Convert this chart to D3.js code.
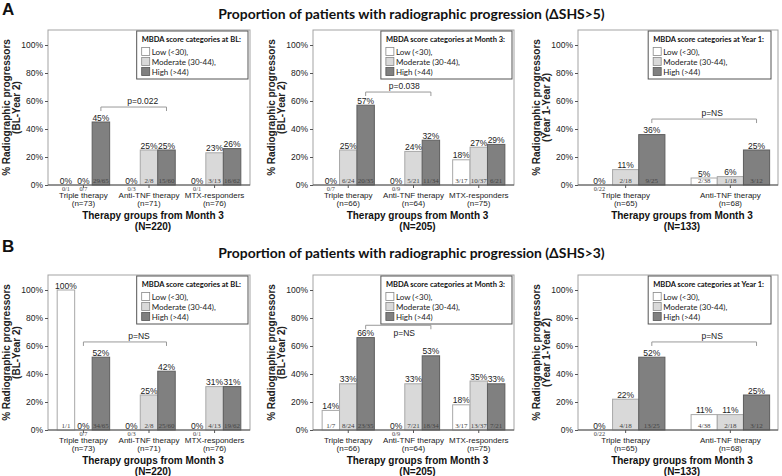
<!DOCTYPE html>
<html><head><meta charset="utf-8">
<script src="https://cdn.jsdelivr.net/npm/d3@7"></script>
<style>body{margin:0;background:#fff}</style>
</head><body><svg id="chart" width="782" height="476"></svg>
<script>
// ---------- data ----------
const rowLetters = ["A", "B"];
const rowTitles = ["Proportion of patients with radiographic progression (ΔSHS>5)",
                   "Proportion of patients with radiographic progression (ΔSHS>3)"];
const mbdaCategories = ["Low (<30),", "Moderate (30-44),", "High (>44)"];
const legendTitles = ["MBDA score categories at BL:", "MBDA score categories at Month 3:", "MBDA score categories at Year 1:"];
const yTitleLine1 = "% Radiographic progressors";
const yTitleLine2 = ["(BL-Year 2)", "(BL-Year 2)", "(Year 1-Year 2)"];
const xTitle = "Therapy groups from Month 3";
const totalN = ["(N=220)", "(N=205)", "(N=133)"];
const therapyGroups3 = ["Triple therapy", "Anti-TNF therapy", "MTX-responders"];
const therapyGroups2 = ["Triple therapy", "Anti-TNF therapy"];
const groupNBL = ["(n=73)", "(n=71)", "(n=76)"];
const groupNM3 = ["(n=66)", "(n=64)", "(n=75)"];
const groupNY1 = ["(n=65)", "(n=68)"];
const yTickValues = [0, 20, 40, 60, 80, 100];

// percentages per group: [Low, Moderate, High]
const pctA1 = [[0, 0, 45], [0, 25, 25], [0, 23, 26]];
const cntA1 = [["0/1", "0/7", "29/65"], ["0/3", "2/8", "15/60"], ["0/1", "3/13", "16/62"]];
const pctA2 = [[0, 25, 57], [0, 24, 32], [18, 27, 29]];
const cntA2 = [["0/7", "6/24", "20/35"], ["0/9", "5/21", "11/34"], ["3/17", "10/37", "6/21"]];
const pctA3 = [[0, 11, 36], [5, 6, 25]];
const cntA3 = [["0/22", "2/18", "9/25"], ["2/38", "1/18", "3/12"]];
const pctB1 = [[100, 0, 52], [0, 25, 42], [0, 31, 31]];
const cntB1 = [["1/1", "0/7", "34/65"], ["0/3", "2/8", "25/60"], ["0/1", "4/13", "19/62"]];
const pctB2 = [[14, 33, 66], [0, 33, 53], [18, 35, 33]];
const cntB2 = [["1/7", "8/24", "23/35"], ["0/9", "7/21", "18/34"], ["3/17", "13/37", "7/21"]];
const pctB3 = [[0, 22, 52], [11, 11, 25]];
const cntB3 = [["0/22", "4/18", "13/25"], ["4/38", "2/18", "3/12"]];
const pLabelsA = ["p=0.022", "p=0.038", "p=NS"];
const pLabelsB = ["p=NS", "p=NS", "p=NS"];

// ---------- layout / style ----------
const rowOffset = [0, 245];
const boxLeft = [48, 313, 578];
const boxWidth = [202, 201, 200];
const boxTop = 30, zeroY = 185, hundredY = 45;
const yMax = (zeroY - boxTop) / (zeroY - hundredY) * 100;
const barFill = ["#ffffff", "#d9d9d9", "#808080"];
const barStroke = ["#a8a8a8", "#a8a8a8", "#5e5e5e"];
const sans = "'Liberation Sans', Arial, sans-serif";
const serif = "'Liberation Serif', 'Times New Roman', serif";
const cal = "Lato, 'Open Sans', sans-serif";

const panels = [
  {row: 0, col: 0, groups: therapyGroups3, ns: groupNBL, pct: pctA1, cnt: cntA1, p: pLabelsA[0],
   br: {from: [0, 2], to: [1, 2], level: 55.7, dx: 9, below: false}},
  {row: 0, col: 1, groups: therapyGroups3, ns: groupNM3, pct: pctA2, cnt: cntA2, p: pLabelsA[1],
   br: {from: [0, 2], to: [1, 2], level: 66.4, dx: 6, below: false}},
  {row: 0, col: 2, groups: therapyGroups2, ns: groupNY1, pct: pctA3, cnt: cntA3, p: pLabelsA[2],
   br: {from: [0, 2], to: [1, 2], level: 47.1, dx: 8, below: false}},
  {row: 1, col: 0, groups: therapyGroups3, ns: groupNBL, pct: pctB1, cnt: cntB1, p: pLabelsB[0],
   br: {from: [0, 1], to: [1, 2], level: 62.9, dx: 14, below: false}},
  {row: 1, col: 1, groups: therapyGroups3, ns: groupNM3, pct: pctB2, cnt: cntB2, p: pLabelsB[1],
   br: {from: [0, 2], to: [1, 2], level: 74.8, dx: 6, below: true}},
  {row: 1, col: 2, groups: therapyGroups2, ns: groupNY1, pct: pctB3, cnt: cntB3, p: pLabelsB[2],
   br: {from: [0, 2], to: [1, 2], level: 62.9, dx: 8, below: false}}
];

const svg = d3.select("#chart");

function fitWidth(sel, target) {
  const w = sel.node().getComputedTextLength();
  const fs = parseFloat(sel.attr("font-size"));
  sel.attr("font-size", fs * target / w);
}

// row letters and titles
rowLetters.forEach((L, i) => {
  svg.append("text").attr("x", 2).attr("y", [15, 252][i]).attr("font-family", sans)
    .attr("font-weight", "bold").attr("font-size", 17).attr("fill", "#111").text(L);
  const t = svg.append("text").attr("x", 411.5).attr("y", [19, 258][i]).attr("text-anchor", "middle")
    .attr("font-family", cal).attr("font-weight", 700).attr("font-size", 14).attr("fill", "#111")
    .text(rowTitles[i]);
  fitWidth(t, 387);
});

panels.forEach(P => {
  const oy = rowOffset[P.row];
  const x0 = boxLeft[P.col], w = boxWidth[P.col];
  const top = boxTop + oy, base = zeroY + oy;
  const g = svg.append("g");
  const nG = P.groups.length;
  const y = d3.scaleLinear().domain([0, yMax]).range([base, top]);
  const xg = d3.scaleBand().domain(P.groups).range([x0, x0 + w])
    .paddingInner(nG === 3 ? 0.2 : 0.25).paddingOuter(nG === 3 ? 0.14 : 0.08);
  const xb = d3.scaleBand().domain(mbdaCategories).range([0, xg.bandwidth()]);

  // plot frame
  g.append("rect").attr("x", x0).attr("y", top).attr("width", w).attr("height", base - top)
    .attr("fill", "none").attr("stroke", "#a3a3a3").attr("stroke-width", 1);

  // bars
  P.groups.forEach((grp, gi) => {
    mbdaCategories.forEach((cat, ci) => {
      const v = P.pct[gi][ci];
      const bx = xg(grp) + xb(cat);
      if (v > 0) {
        g.append("rect").attr("x", bx).attr("y", y(v)).attr("width", xb.bandwidth())
          .attr("height", y(0) - y(v)).attr("fill", barFill[ci]).attr("stroke", barStroke[ci]).attr("stroke-width", 1);
      }
      g.append("text").attr("x", bx + xb.bandwidth() / 2).attr("y", y(v) - 1.5)
        .attr("text-anchor", "middle").attr("font-family", sans).attr("font-size", 8.5)
        .attr("fill", "#222").text(v + "%");
      g.append("text").attr("x", bx + xb.bandwidth() / 2).attr("y", v > 0 ? base - 2 : base + 5.5)
        .attr("text-anchor", "middle").attr("font-family", serif).attr("font-size", v > 0 ? 7 : 6.3)
        .attr("fill", "#444").text(P.cnt[gi][ci]);
    });
  });

  // y axis
  const ax = d3.axisLeft(y).tickValues(yTickValues).tickFormat(d => d + "%").tickSize(3).tickPadding(2);
  const ga = g.append("g").attr("transform", `translate(${x0},0)`).call(ax);
  ga.select(".domain").remove();
  ga.selectAll(".tick line").attr("stroke", "#555");
  ga.selectAll(".tick text").attr("font-family", sans).attr("font-size", 8.5).attr("fill", "#222");

  // x axis
  const bx = d3.axisBottom(xg).tickFormat("").tickSize(3);
  const gb = g.append("g").attr("transform", `translate(0,${base})`).call(bx);
  gb.select(".domain").attr("stroke", "#555").attr("d", `M${x0},0H${x0 + w}`);
  gb.selectAll(".tick line").attr("stroke", "#555");
  P.groups.forEach((grp, gi) => {
    const cx = xg(grp) + xg.bandwidth() / 2;
    g.append("text").attr("x", cx).attr("y", base + 12.5).attr("text-anchor", "middle")
      .attr("font-family", sans).attr("font-size", 8).attr("fill", "#222").text(grp);
    g.append("text").attr("x", cx).attr("y", base + 20.5).attr("text-anchor", "middle")
      .attr("font-family", sans).attr("font-size", 8).attr("fill", "#222").text(P.ns[gi]);
  });
  const midX = x0 + w / 2 + 4;
  g.append("text").attr("x", midX).attr("y", base + 34).attr("text-anchor", "middle")
    .attr("font-family", sans).attr("font-weight", "bold").attr("font-size", 10).attr("fill", "#111").text(xTitle);
  g.append("text").attr("x", midX).attr("y", base + 44.5).attr("text-anchor", "middle")
    .attr("font-family", sans).attr("font-weight", "bold").attr("font-size", 10).attr("fill", "#111").text(totalN[P.col]);

  // y title
  const cy = (top + base) / 2;
  [[yTitleLine1, x0 - 38], [yTitleLine2[P.col], x0 - 28]].forEach(([t, tx]) => {
    g.append("text").attr("transform", `translate(${tx},${cy}) rotate(-90)`).attr("text-anchor", "middle")
      .attr("font-family", sans).attr("font-weight", "bold").attr("font-size", 10).attr("fill", "#222").text(t);
  });

  // p-value bracket
  const b = P.br;
  const bxFrom = xg(P.groups[b.from[0]]) + xb(mbdaCategories[b.from[1]]) + xb.bandwidth() / 2;
  const bxTo = xg(P.groups[b.to[0]]) + xb(mbdaCategories[b.to[1]]) + xb.bandwidth() / 2;
  const by = y(b.level);
  g.append("path").attr("d", `M${bxFrom},${by + 4}V${by}H${bxTo}V${by + 4}`)
    .attr("fill", "none").attr("stroke", "#999").attr("stroke-width", 1);
  g.append("text").attr("x", (bxFrom + bxTo) / 2 + b.dx).attr("y", b.below ? by + 10.5 : by - 3)
    .attr("text-anchor", "middle").attr("font-family", sans).attr("font-size", 8.5).attr("fill", "#222").text(P.p);

  // legend
  const lg = g.append("g");
  const lt = lg.append("text").attr("font-family", cal).attr("font-weight", 700).attr("font-size", 7.5)
    .attr("fill", "#111").text(legendTitles[P.col]);
  const tw = lt.node().getComputedTextLength();
  const lw = tw + 12;
  const lRight = x0 + w - (nG === 3 ? 2 : 7);
  const lx = lRight - lw, ly = top + 1;
  lg.insert("rect", "text").attr("x", lx).attr("y", ly).attr("width", lw).attr("height", 48)
    .attr("fill", "#fff").attr("stroke", "#555").attr("stroke-width", 1);
  lt.attr("x", lx + 5).attr("y", ly + 11);
  mbdaCategories.forEach((cat, ci) => {
    const ry = ly + 20 + ci * 10;
    lg.append("rect").attr("x", lx + 5).attr("y", ry - 3.5).attr("width", 8).attr("height", 8)
      .attr("fill", barFill[ci]).attr("stroke", ci === 2 ? "#555" : "#888").attr("stroke-width", 0.8);
    lg.append("text").attr("x", lx + 15).attr("y", ry + 3.5).attr("font-family", cal)
      .attr("font-size", 8).attr("fill", "#222").text(cat);
  });
});
</script>
</body></html>
